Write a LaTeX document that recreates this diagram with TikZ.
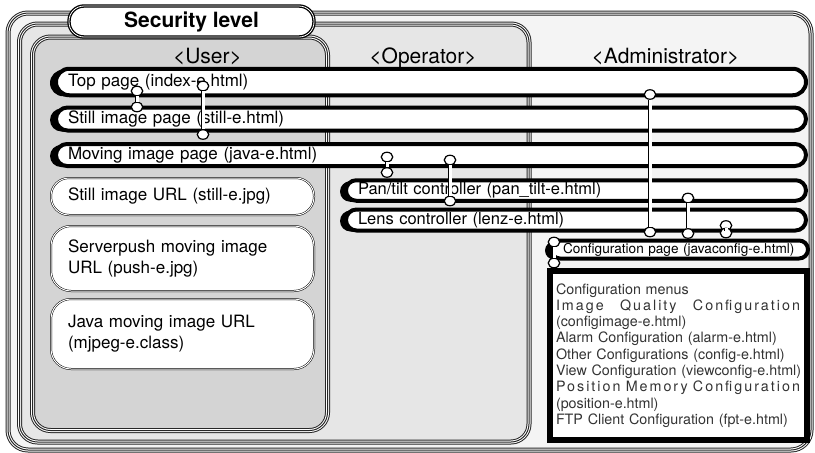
\documentclass[tikz,border=0pt]{standalone}
\usepackage{fontspec}
\setmainfont{TeX Gyre Heros}
\usetikzlibrary{positioning,shapes.geometric,shadows}
\definecolor{adminfill}{HTML}{F4F4F4}
\definecolor{operfill}{HTML}{E6E6E6}
\definecolor{userfill}{HTML}{D4D4D4}
\newcommand{\spreadline}[3]{\leavevmode\hbox to 244pt{\addfontfeature{LetterSpace=14}#1\hfill #2\hfill #3}}

\begin{document}
\begin{tikzpicture}[x=1pt,y=-1pt,
tripleframe/.style={draw=black!85,line width=5pt,
    postaction={draw=white,line width=3pt},
    postaction={draw=black!85,line width=1pt}},
seclevel/.style={draw,fill=white,line width=1.3pt,double=white,double distance=0.8pt,
    rounded corners=15pt,minimum width=245pt,minimum height=31pt,
    font=\bfseries\fontsize{21}{24}\selectfont},
role/.style={anchor=base,font=\fontsize{21}{24}\selectfont},
pagebar/.style={draw,fill=white,line width=4pt,rounded corners=#1,
    inner xsep=12pt,inner ysep=1pt,align=left,
    drop shadow={shadow xshift=-6pt,shadow yshift=-1pt,fill=black,opacity=1},
    font=\fontsize{17}{20}\selectfont},
urlbox/.style={draw,fill=white,line width=0.5pt,double=white,double distance=1pt,
    rounded corners=#1,text width=229pt,inner xsep=17pt,align=left,
    font=\fontsize{17}{21}\selectfont},
menubox/.style={draw,fill=white,line width=6pt,text width=245pt,inner xsep=6pt,
    minimum height=169pt,align=left,text=black!80,
    font=\fontsize{14.3}{16.3}\selectfont},
joint/.style={ellipse,draw,fill=white,line width=1.2pt,inner sep=0pt,
    minimum width=11.5pt,minimum height=9.5pt},
linkbar/.style={draw,line width=0.8pt,double=white,double distance=3pt}]
\useasboundingbox (0,0) rectangle (815,453);

% security level frames
\draw[tripleframe,fill=adminfill,rounded corners=20pt] (8,13) rectangle (811,450);
\draw[tripleframe,fill=operfill,rounded corners=18pt] (19.5,24) rectangle (529,442);
\draw[tripleframe,fill=userfill,rounded corners=18pt] (32.5,37) rectangle (327.5,430.5);

\node[seclevel] (security) at (191.5,21.5) {Security level};
\node[role] (user) at (207.5,63) {<User>};
\node[role] (operator) at (423,63) {<Operator>};
\node[role] (admin) at (665.5,63) {<Administrator>};

% pages
\node[pagebar=13.25pt,text width=726pt,minimum height=26.5pt] (toppage) at (431,82)
    {Top page (index-e.html)};
\node[pagebar=11.5pt,text width=726pt,minimum height=23pt] (stillpage) at (431,119)
    {Still image page (still-e.html)};
\node[pagebar=11pt,text width=726pt,minimum height=22pt] (movingpage) at (431,155)
    {Moving image page (java-e.html)};
\node[pagebar=10.25pt,text width=436pt,minimum height=20.5pt,
    font=\fontsize{16.5}{19}\selectfont] (pantilt) at (576,190.5)
    {Pan/tilt controller (pan\_tilt-e.html)};
\node[pagebar=10.5pt,text width=436pt,minimum height=21pt,
    font=\fontsize{16.5}{19}\selectfont] (lens) at (576,220)
    {Lens controller (lenz-e.html)};
\node[pagebar=9pt,text width=233pt,minimum height=18pt,
    font=\fontsize{13.6}{16}\selectfont] (configpage) at (679.5,249.5)
    {Configuration page (javaconfig-e.html)};

\node[menubox] (menus) at (678.5,355.5) {Configuration menus\\
    \spreadline{Image}{Quality}{Configuration}\\
    (configimage-e.html)\\
    Alarm Configuration (alarm-e.html)\\
    Other Configurations (config-e.html)\\
    \mbox{View Configuration (viewconfig-e.html)}\\
    \spreadline{Position}{Memory}{Configuration}\\
    (position-e.html)\\
    FTP Client Configuration (fpt-e.html)};

% user urls
\node[urlbox=18pt,minimum height=37pt] (stillurl) at (182.5,196.5)
    {Still image URL (still-e.jpg)};
\node[urlbox=20pt,minimum height=65pt] (pushurl) at (182.5,258.5)
    {Serverpush moving image\\URL (push-e.jpg)};
\node[urlbox=20pt,minimum height=70pt] (javaurl) at (182.5,334)
    {Java moving image URL\\(mjpeg-e.class)};

% links
\node[joint] (tsA) at (137,91) {};
\node[joint] (tsB) at (137,107) {};
\draw[linkbar] (tsA) -- (tsB);
\node[joint] (tmA) at (203,86) {};
\node[joint] (tmB) at (203,134.5) {};
\draw[linkbar] (tmA) -- (tmB);
\node[joint] (mpA) at (387,157) {};
\node[joint] (mpB) at (387,172.5) {};
\draw[linkbar] (mpA) -- (mpB);
\node[joint] (mlA) at (450,160) {};
\node[joint] (mlB) at (450,201) {};
\draw[linkbar] (mlA) -- (mlB);
\node[joint] (tcA) at (650,94.5) {};
\node[joint] (tcB) at (650,232) {};
\draw[linkbar] (tcA) -- (tcB);
\node[joint] (pcA) at (688,198) {};
\node[joint] (pcB) at (688,233.5) {};
\draw[linkbar] (pcA) -- (pcB);
\node[joint] (lcA) at (726,225.5) {};
\node[joint] (lcB) at (726,233) {};
\draw[linkbar] (lcA) -- (lcB);
\node[joint] (cmA) at (554,242) {};
\node[joint] (cmB) at (554,263) {};
\draw[linkbar] (cmA) -- (cmB);
\end{tikzpicture}
\end{document}
